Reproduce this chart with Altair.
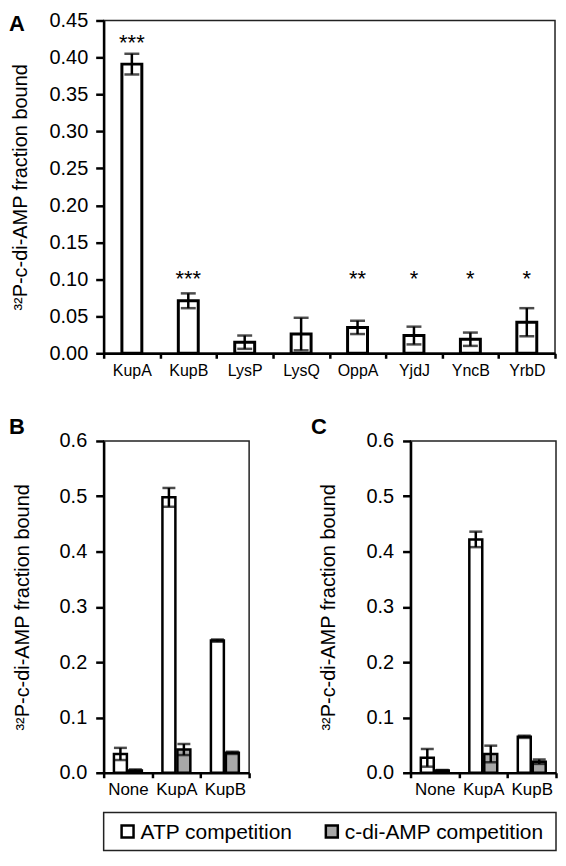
import altair as alt
import pandas as pd

FONT = "Liberation Sans"
YTITLE = "³²P-c-di-AMP fraction bound"

# ---- Panel A data ----
a_proteins = ["KupA", "KupB", "LysP", "LysQ", "OppA", "YjdJ", "YncB", "YrbD"]
a_mean = [0.391, 0.071, 0.015, 0.026, 0.035, 0.024, 0.019, 0.042]
a_err = [0.014, 0.010, 0.009, 0.022, 0.009, 0.012, 0.009, 0.019]
a_stars = ["***", "***", "", "", "**", "*", "*", "*"]
a_star_y = [0.425, 0.106, None, None, 0.106, 0.106, 0.106, 0.106]
a_ticks = [0.0, 0.05, 0.10, 0.15, 0.20, 0.25, 0.30, 0.35, 0.40, 0.45]

# ---- Panels B / C data ----
groups = ["None", "KupA", "KupB"]
series = ["ATP competition", "c-di-AMP competition"]
series_fill = ["white", "#a8a8a8"]
b_atp_mean = [0.034, 0.498, 0.239]
b_atp_err = [0.011, 0.017, 0.002]
b_cdi_mean = [0.004, 0.042, 0.036]
b_cdi_err = [0.002, 0.010, 0.002]
c_atp_mean = [0.027, 0.422, 0.065]
c_atp_err = [0.016, 0.014, 0.002]
c_cdi_mean = [0.004, 0.034, 0.020]
c_cdi_err = [0.001, 0.015, 0.004]
bc_ticks = [0.0, 0.1, 0.2, 0.3, 0.4, 0.5, 0.6]


def letter_layer(letter, dx, dy, opacity=1):
    return alt.Chart(pd.DataFrame({"t": [letter]})).mark_text(
        fontSize=22, fontWeight="bold", font=FONT, align="left", baseline="top", color="black",
        opacity=opacity
    ).encode(x=alt.value(dx), y=alt.value(dy), text="t:N")


# ---- Panel A ----
dfA = pd.DataFrame({"protein": a_proteins, "mean": a_mean, "err": a_err,
                    "stars": a_stars, "star_y": a_star_y})
dfA["lo"] = dfA["mean"] - dfA["err"]
dfA["hi"] = dfA["mean"] + dfA["err"]

xaxisA = alt.Axis(tickBand="extent", labelAngle=0, labelFontSize=16, tickSize=5, labelPadding=4)
yaxisA = alt.Axis(values=a_ticks, format=".2f", title=YTITLE, labelFontSize=20,
                  labelOverlap=False, tickSize=8, labelPadding=8, titlePadding=19)
xscaleA = alt.Scale(paddingInner=0, paddingOuter=0)
yscaleA = alt.Scale(domain=[0, 0.45], nice=False)


def xA():
    return alt.X("protein:N", sort=a_proteins, title=None, scale=xscaleA, axis=xaxisA)


def yA(field):
    return alt.Y(field, scale=yscaleA, axis=yaxisA, title=YTITLE)


barsA = alt.Chart(dfA).mark_bar(size=20, fill="white", stroke="black", strokeWidth=3).encode(
    x=xA(), y=yA("mean:Q"))
ruleA = alt.Chart(dfA).mark_rule(color="black", strokeWidth=2.5).encode(
    x=xA(), y=yA("lo:Q"), y2="hi:Q")
capHiA = alt.Chart(dfA).mark_tick(color="black", size=15, thickness=2.5).encode(
    x=xA(), y=yA("hi:Q"))
capLoA = alt.Chart(dfA).mark_tick(color="black", size=15, thickness=2.5).encode(
    x=xA(), y=yA("lo:Q"))
starsA = alt.Chart(dfA).transform_filter("datum.stars != ''").mark_text(
    fontSize=22, font=FONT, color="black", baseline="middle", dy=4).encode(
    x=xA(), y=yA("star_y:Q"), text="stars:N")

chartA = alt.layer(barsA, ruleA, capHiA, capLoA, starsA, letter_layer("A", -95, -6)).properties(
    width=453, height=334)


# ---- Panels B / C ----
def panel_bc(letter, atp_m, atp_e, cdi_m, cdi_e, ldx, title_pad):
    rows = []
    for g, m, e in zip(groups, atp_m, atp_e):
        rows.append({"group": g, "series": series[0], "mean": m, "err": e})
    for g, m, e in zip(groups, cdi_m, cdi_e):
        rows.append({"group": g, "series": series[1], "mean": m, "err": e})
    df = pd.DataFrame(rows)
    df["lo"] = df["mean"] - df["err"]
    df["hi"] = df["mean"] + df["err"]

    xaxis = alt.Axis(tickBand="extent", labelAngle=0, labelFontSize=17, tickSize=5,
                     labelPadding=4)
    yaxis = alt.Axis(values=bc_ticks, format=".1f", title=YTITLE, labelFontSize=20,
                     labelOverlap=False, tickSize=8, labelPadding=9, titlePadding=title_pad)
    xscale = alt.Scale(paddingInner=0, paddingOuter=0)
    yscale = alt.Scale(domain=[0, 0.6], nice=False)

    def x():
        return alt.X("group:N", sort=groups, title=None, scale=xscale, axis=xaxis)

    def y(field):
        return alt.Y(field, scale=yscale, axis=yaxis, title=YTITLE)

    xo = alt.XOffset("series:N", sort=series,
                     scale=alt.Scale(paddingInner=0, paddingOuter=0.62))

    bars = alt.Chart(df).mark_bar(size=13, stroke="black", strokeWidth=2.5).encode(
        x=x(), xOffset=xo, y=y("mean:Q"),
        fill=alt.Fill("series:N", scale=alt.Scale(domain=series, range=series_fill),
                      legend=None),
    )
    rule = alt.Chart(df).mark_rule(color="black", strokeWidth=2.5).encode(
        x=x(), xOffset=xo, y=y("lo:Q"), y2="hi:Q")
    capHi = alt.Chart(df).mark_tick(color="black", size=13, thickness=2.5).encode(
        x=x(), xOffset=xo, y=y("hi:Q"))
    capLo = alt.Chart(df).mark_tick(color="black", size=13, thickness=2.5).encode(
        x=x(), xOffset=xo, y=y("lo:Q"))
    return alt.layer(bars, rule, capHi, capLo, letter_layer(letter, ldx, -24)).properties(
        width=146, height=333)


chartB = panel_bc("B", b_atp_mean, b_atp_err, b_cdi_mean, b_cdi_err, -95, 27)
chartC = panel_bc("C", c_atp_mean, c_atp_err, c_cdi_mean, c_cdi_err, -100, 28)

# ---- Legend (boxed row) ----
dfL = pd.DataFrame({"series": series})
xL = alt.X("series:N", scale=alt.Scale(type="point", domain=series, range=[24, 229], padding=0),
           axis=None)
legSym = alt.Chart(dfL).mark_square(size=144, stroke="black", strokeWidth=2.5, opacity=1).encode(
    x=xL, y=alt.value(19),
    fill=alt.Fill("series:N", scale=alt.Scale(domain=series, range=series_fill), legend=None))
legTxt = alt.Chart(dfL).mark_text(fontSize=21, font=FONT, color="black", align="left",
                                  baseline="middle", dx=13).encode(
    x=xL, y=alt.value(20), text="series:N")
# invisible spacer so the legend box lines up with the plot areas above
legend = alt.layer(legSym, legTxt, letter_layer("A", -95, 0, opacity=0)).properties(
    width=454, height=38)

chart = alt.vconcat(
    chartA,
    alt.vconcat(
        alt.hconcat(chartB, chartC, spacing=162, bounds="flush"),
        legend,
        spacing=12,
    ),
    spacing=36,
).properties(padding={"left": 0, "top": 0, "right": 0, "bottom": 0}).configure_view(
    stroke="#222222", strokeWidth=1.5
).configure_axis(
    domainColor="black", domainWidth=2.5, tickColor="black", tickWidth=2.5,
    labelFont=FONT, labelColor="black", titleFont=FONT, titleColor="black",
    titleFontWeight="normal", titleFontSize=20, grid=False
)

chart.save("out.html", embed_options={"renderer": "svg", "actions": False})
